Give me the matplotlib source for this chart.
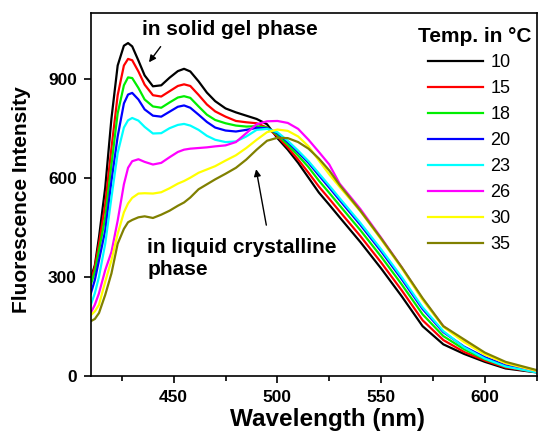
import matplotlib.pyplot as plt
from matplotlib.ticker import MultipleLocator

plt.rcParams['font.family'] = ['Liberation Sans', 'DejaVu Sans']

# emission spectra
wavelength = [410, 412, 414, 417, 420, 423, 426, 428, 430, 433, 436, 440, 444, 448, 452, 455, 458, 462, 466, 470,
              475, 480, 485, 490, 495, 500, 505, 510, 515, 520, 525, 530, 540, 550, 560, 570, 580, 590, 600, 610, 625]
temps = ['10', '15', '18', '20', '23', '26', '30', '35']

int_10 = [295, 335, 420, 570, 780, 940, 1000, 1008, 998, 955, 910, 877, 880, 903, 923, 930, 922, 892, 858, 832,
          810, 798, 788, 778, 762, 720, 685, 645, 600, 555, 518, 480, 405, 325, 240, 150, 95, 66, 42, 22, 10]
int_15 = [285, 330, 400, 520, 690, 850, 940, 960, 956, 922, 882, 850, 846, 862, 878, 883, 878, 851, 822, 801,
          785, 772, 768, 765, 752, 725, 692, 655, 615, 573, 536, 498, 423, 343, 258, 168, 108, 72, 46, 25, 11]
int_18 = [275, 315, 380, 480, 640, 795, 880, 904, 902, 872, 837, 816, 812, 828, 843, 847, 842, 816, 791, 775,
          765, 758, 755, 756, 752, 730, 700, 667, 632, 591, 554, 516, 441, 361, 276, 186, 120, 80, 50, 28, 12]
int_20 = [248, 290, 350, 440, 590, 725, 825, 852, 857, 837, 807, 788, 785, 800, 815, 819, 812, 791, 769, 752,
          743, 740, 745, 751, 750, 735, 708, 677, 645, 607, 570, 532, 457, 377, 292, 202, 132, 88, 56, 32, 14]
int_23 = [214, 250, 300, 400, 540, 675, 752, 774, 781, 773, 754, 734, 735, 750, 760, 763, 758, 745, 727, 715,
          708, 710, 725, 745, 748, 738, 712, 682, 650, 613, 576, 538, 463, 383, 298, 207, 135, 86, 52, 28, 10]
int_26 = [190, 215, 250, 320, 375, 470, 580, 630, 650, 656, 648, 640, 645, 662, 678, 685, 688, 690, 692, 695,
          698, 708, 735, 762, 771, 772, 766, 748, 715, 678, 640, 582, 505, 418, 328, 232, 150, 105, 65, 38, 15]
int_30 = [183, 195, 215, 285, 350, 430, 495, 522, 539, 552, 553, 552, 556, 568, 582, 590, 600, 615, 625, 635,
          652, 668, 690, 715, 738, 746, 742, 725, 695, 652, 610, 572, 498, 413, 325, 230, 148, 102, 64, 38, 15]
int_35 = [165, 172, 190, 245, 310, 400, 445, 465, 472, 480, 483, 478, 488, 500, 515, 525, 540, 565, 580, 595,
          612, 630, 655, 685, 712, 721, 720, 708, 688, 658, 622, 578, 500, 416, 328, 235, 150, 110, 70, 42, 17]

spectra = [int_10, int_15, int_18, int_20, int_23, int_26, int_30, int_35]
colors = ['#000000', '#ff0000', '#00ee00', '#0000ff', '#00ffff', '#ff00ff', '#ffff00', '#808000']

fig = plt.figure(figsize=(5.38, 4.34), dpi=100)
ax = fig.add_axes([0.1686, 0.1343, 0.829, 0.8364])

for t, y, c in zip(temps, spectra, colors):
    ax.plot(wavelength, y, color=c, lw=1.6, label=t)

ax.set_xlim(410, 625)
ax.set_ylim(0, 1100)
ax.xaxis.set_major_locator(MultipleLocator(50))
ax.xaxis.set_minor_locator(MultipleLocator(25))
ax.yaxis.set_major_locator(MultipleLocator(300))
ax.tick_params(which='both', direction='out', width=1.2, top=False, right=False)
ax.tick_params(which='major', length=5, labelsize=12.5, pad=5)
ax.tick_params(which='minor', length=3.5)
plt.setp(ax.get_xticklabels() + ax.get_yticklabels(), fontweight='bold')
for s in ax.spines.values():
    s.set_linewidth(1.2)

ax.set_xlabel('Wavelength (nm)', fontsize=17.5, fontweight='bold')
ax.xaxis.set_label_coords(0.531, -0.089)
ax.set_ylabel('Fluorescence Intensity', fontsize=15, fontweight='bold')
ax.yaxis.set_label_coords(-0.134, 0.484)

ax.legend(frameon=False, fontsize=13, loc='upper left', bbox_to_anchor=(428 / 538, 1 - 54 / 434),
          bbox_transform=fig.transFigure, borderpad=0, borderaxespad=0,
          handlelength=3.05, handletextpad=0.4, labelspacing=0.5)
fig.text(418 / 538, 1 - 42 / 434, 'Temp. in \u00b0C', fontsize=15, fontweight='bold', va='baseline')

ax.text(434.6, 1031, 'in solid gel phase', fontsize=15, fontweight='bold', va='baseline')
ax.annotate('', xy=(437.3, 943), xytext=(444.5, 1004),
            arrowprops=dict(arrowstyle='-|>', color='black', lw=1, mutation_scale=10))
ax.text(437.3, 306, 'in liquid crystalline\nphase', fontsize=15, fontweight='bold', va='baseline',
        linespacing=1.2)
ax.annotate('', xy=(489.5, 634), xytext=(494.9, 448),
            arrowprops=dict(arrowstyle='-|>', color='black', lw=1, mutation_scale=10))

fig.savefig('out.png', dpi=100)
